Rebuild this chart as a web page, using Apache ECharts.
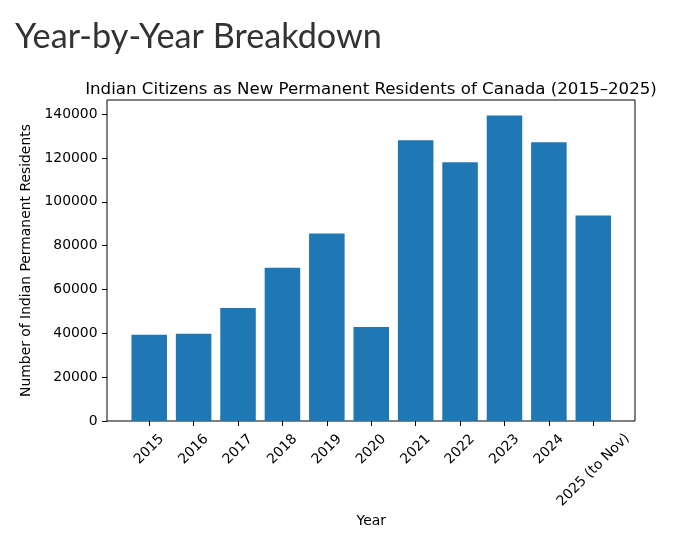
<!DOCTYPE html>
<html>
<head>
<meta charset="utf-8">
<script src="https://cdn.jsdelivr.net/npm/echarts@6/dist/echarts.min.js"></script>
<style>
  html, body { margin: 0; padding: 0; background: #fff; }
  #chart { width: 683px; height: 542px; }
</style>
</head>
<body>
<div id="chart"></div>
<script>
const years = ['2015', '2016', '2017', '2018', '2019', '2020', '2021', '2022', '2023', '2024', '2025 (to Nov)'];
const residents = [39340, 39790, 51590, 69980, 85590, 42870, 128090, 118090, 139460, 127180, 93800];
const yTicks = [0, 20000, 40000, 60000, 80000, 100000, 120000, 140000];
const yMax = 146500;

const font = 'DejaVu Sans';
const fs = 13.9;
const last = years.length - 1;
const chart = echarts.init(document.getElementById('chart'));

// bar area is inset from the frame like matplotlib's default x margins
const barGrid = { left: 127, right: 67.5, top: 100, bottom: 121 };

chart.setOption({
    animation: false,
    title: [
        {
            text: 'Year-by-Year Breakdown',
            left: 10, top: 15,
            textStyle: { fontFamily: 'Lato', fontSize: 34.2, fontWeight: 'normal', color: '#333' }
        },
        {
            text: 'Indian Citizens as New Permanent Residents of Canada (2015–2025)',
            left: 366, top: 76, textAlign: 'center',
            textStyle: { fontFamily: font, fontSize: 16.67, fontWeight: 'normal', color: '#000' }
        }
    ],
    grid: [
        { left: 107, right: 48, top: 100, bottom: 121, show: true, borderColor: '#000', borderWidth: 1, backgroundColor: 'transparent' },
        barGrid,
        barGrid
    ],
    xAxis: [
        { gridIndex: 0, type: 'value', show: false, min: 0, max: 1 },
        {
            gridIndex: 1, type: 'category', data: years,
            name: 'Year', nameLocation: 'middle', nameGap: 93,
            nameTextStyle: { fontFamily: font, fontSize: fs, color: '#000' },
            axisLine: { show: false },
            axisTick: { show: true, alignWithLabel: true, length: 5, lineStyle: { color: '#000' } },
            axisLabel: {
                rotate: 45, interval: 0, margin: 28.5, align: 'center', verticalAlign: 'middle',
                fontFamily: font, fontSize: fs, color: '#000',
                formatter: (v, i) => (i === last ? '' : v)
            }
        },
        {
            // the long last label sits further down
            gridIndex: 2, type: 'category', data: years,
            axisLine: { show: false }, axisTick: { show: false },
            axisLabel: {
                rotate: 45, interval: 0, margin: 49, align: 'center', verticalAlign: 'middle',
                fontFamily: font, fontSize: fs, color: '#000',
                formatter: (v, i) => (i === last ? v : '')
            }
        }
    ],
    yAxis: [
        {
            gridIndex: 0, type: 'value', min: 0, max: yMax,
            name: 'Number of Indian Permanent Residents', nameLocation: 'middle', nameGap: 66,
            nameTextStyle: { fontFamily: font, fontSize: fs, color: '#000' },
            splitLine: { show: false },
            axisLine: { show: false },
            axisTick: { show: true, length: 5, lineStyle: { color: '#000' }, customValues: yTicks },
            axisLabel: { fontFamily: font, fontSize: fs, color: '#000', margin: 9.5, customValues: yTicks, formatter: v => String(v) }
        },
        { gridIndex: 1, type: 'value', min: 0, max: yMax, show: false },
        { gridIndex: 2, type: 'value', min: 0, max: yMax, show: false }
    ],
    series: [
        {
            type: 'bar',
            xAxisIndex: 1, yAxisIndex: 1,
            data: residents,
            barWidth: '80%',
            itemStyle: { color: '#1f77b4' }
        }
    ]
});
</script>
</body>
</html>
